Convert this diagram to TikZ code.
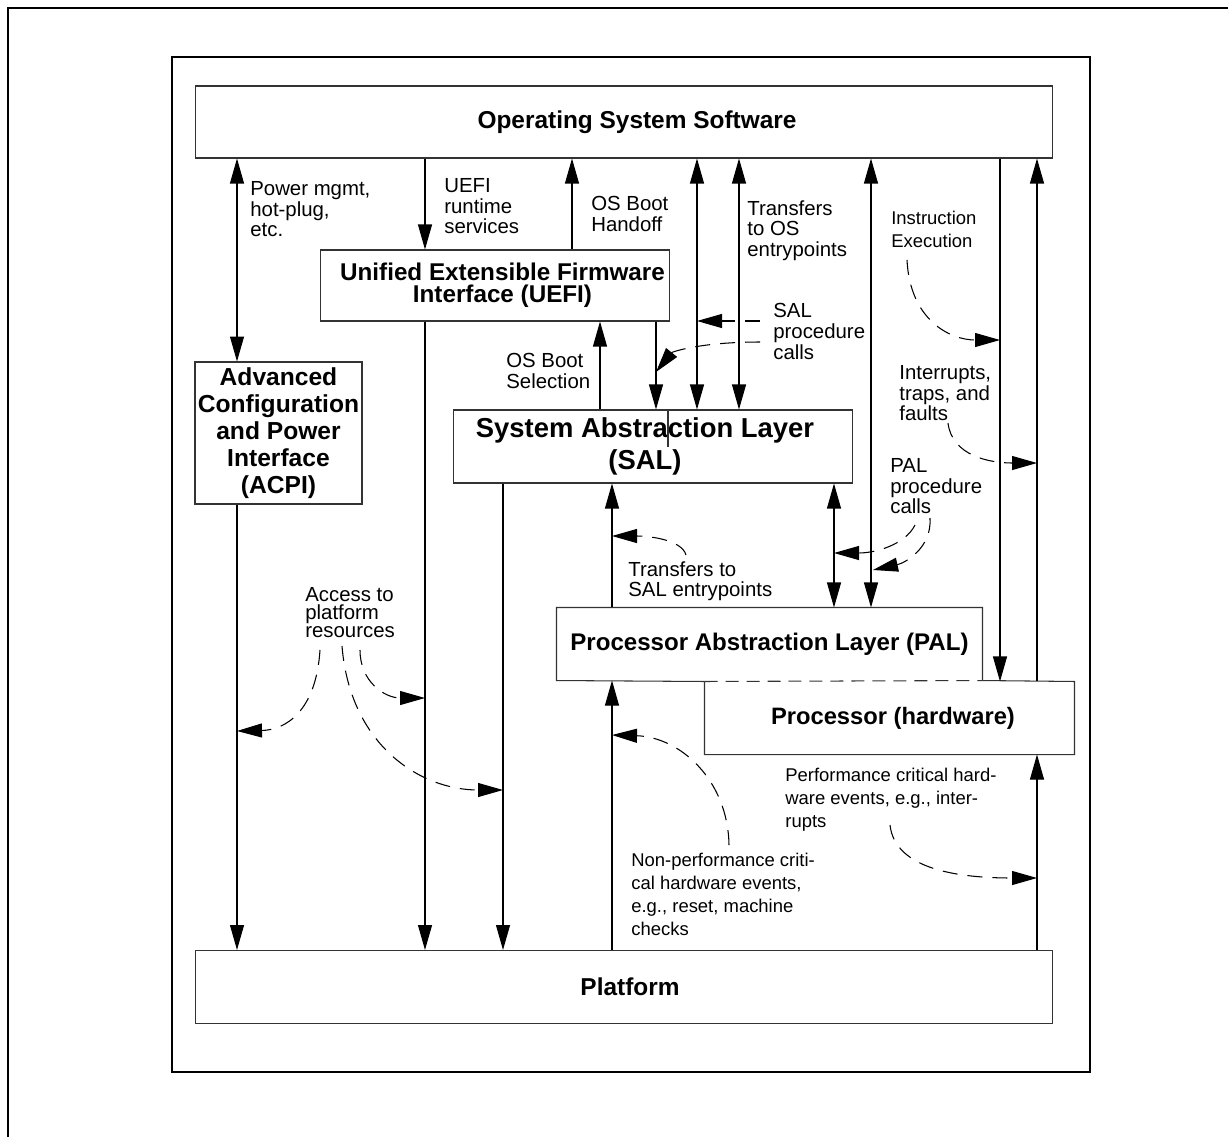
\documentclass[tikz,border=0pt]{standalone}
\usepackage{fontspec}
\setmainfont{Liberation Sans}
\usetikzlibrary{arrows.meta,positioning}
\tikzset{
    %Define standard arrow tip
    >={Triangle[length=5mm,width=2.8mm]},
    %Define style for boxes
    layer/.style={
           rectangle,
           draw=black!80, line width=.6pt,
           inner sep=0pt,
           align=center,
           font=\fontsize{13.9}{15}\selectfont\bfseries},
    bare/.style={
           layer,
           draw=none},
    note/.style={
           inner sep=0pt,
           anchor=north west,
           align=left,
           font=\fontsize{11.6}{11.8}\selectfont},
    smallnote/.style={
           note,
           font=\fontsize{10.5}{13}\selectfont},
    % Define arrow style
    pil/.style={
           line width=.6pt},
    call/.style={
           ->,
           line width=.6pt,
           dash pattern=on 3mm off 2mm}
}
\begin{document}
\begin{tikzpicture}[x=0.02cm,y=-0.02cm]
\useasboundingbox (0,0) rectangle (1228,1137);

 %frames
\draw[line width=1.2pt] (8,1137) -- (8,8) -- (1228,8);
\draw[line width=.8pt] (172,57) rectangle (1090,1072);

 %nodes
\node[layer, minimum width=17.16cm, minimum height=1.44cm] (os) at (624,122) {\hspace*{.52cm}Operating System Software};
\node[layer, minimum width=7cm, minimum height=1.42cm,
  font=\fontsize{13.8}{12.5}\selectfont\bfseries] (uefi) at (495,285.5) {\hspace*{.3cm}Unified Extensible Firmware\\\hspace*{.3cm}Interface (UEFI)};
\node[layer, minimum width=3.34cm, minimum height=2.84cm,
  font=\fontsize{14}{15.4}\selectfont\bfseries] (acpi) at (278.5,433) {Advanced\\Configuration\\and Power\\Interface\\(ACPI)};
\node[layer, minimum width=8cm, minimum height=1.46cm,
  font=\fontsize{15.6}{18.2}\selectfont\bfseries] (sal) at (653,446.5) {System Abstraction Layer\hspace*{.32cm}\\(SAL)\hspace*{.32cm}};
\node[bare, minimum width=8.5cm, minimum height=1.44cm,
  font=\fontsize{13.7}{15}\selectfont\bfseries] (pal) at (769.5,644) {Processor Abstraction Layer (PAL)};
\node[bare, minimum width=7.38cm, minimum height=1.44cm,
  font=\fontsize{13.5}{15}\selectfont\bfseries] (proc) at (889.5,718) {\hspace*{.14cm}Processor (hardware)};
\node[layer, minimum width=17.16cm, minimum height=1.46cm] (plat) at (624,987) {\hspace*{.24cm}Platform};

 %PAL and processor share an edge
\draw[pil, draw=black!80] (proc.north west) -- (pal.south west) -- (pal.north west) -- (pal.north east) -- (pal.south east);
\draw[pil, draw=black!80, dash pattern=on 2.6mm off 1.6mm] (proc.north west) -- (pal.south east);
\draw[pil, draw=black!80] (pal.south east) -- (proc.north east) -- (proc.south east) -- (proc.south west) -- (proc.north west);
\draw[pil, draw=black!80] (sal.north -| 668,0) -- ++(0,38);

 %labels
\node[note] (power) at (250,181) {Power mgmt,\\hot-plug,\\etc.};
\node[note] (rt) at (444,178) {UEFI\\runtime\\services};
\node[note] (handoff) at (591,196) {OS Boot\\Handoff};
\node[note] (toos) at (747,200) {Transfers\\to OS\\entrypoints};
\node[smallnote] (instr) at (891,211) {Instruction\\Execution};
\node[note] (salcalls) at (773,303) {SAL\\procedure\\calls};
\node[note] (select) at (506,353) {OS Boot\\Selection};
\node[note] (intr) at (899,365) {Interrupts,\\traps, and\\faults};
\node[note] (palcalls) at (890,458) {PAL\\procedure\\calls};
\node[note] (tosal) at (628,561) {Transfers to\\SAL entrypoints};
\node[note, font=\fontsize{11.6}{10.2}\selectfont] (access) at (305,587) {Access to\\platform\\resources};
\node[smallnote] (perf) at (785,768) {Performance critical hard-\\ware events, e.g., inter-\\rupts};
\node[smallnote] (nonperf) at (631,853) {Non-performance criti-\\cal hardware events,\\e.g., reset, machine\\checks};

 %lanes
\foreach \n/\x in {acpi/237,rt/425,down/503,handoff/572,select/600,entry/612,
                   call/656,sala/697,salb/739,salpal/834,palos/871,exec/1000,hw/1037}
  \coordinate (lane\n) at (\x,0);

 %connectors
\draw[pil,<->] (os.south -| laneacpi) -- (acpi.north -| laneacpi);
\draw[pil,->] (os.south -| lanert) -- (uefi.north -| lanert);
\draw[pil,->] (uefi.north -| lanehandoff) -- (os.south -| lanehandoff);
\draw[pil,<->] (os.south -| lanesala) -- (sal.north -| lanesala);
\draw[pil,<->] (os.south -| lanesalb) -- (sal.north -| lanesalb);
\draw[pil,<->] (os.south -| lanepalos) -- (pal.north -| lanepalos);
\draw[pil,->] (os.south -| laneexec) -- (proc.north -| laneexec);
\draw[pil,->] (proc.north -| lanehw) -- (os.south -| lanehw);
\draw[pil,->] (sal.north -| laneselect) -- (uefi.south -| laneselect);
\draw[pil,->] (uefi.south -| lanecall) -- (sal.north -| lanecall);
\draw[pil,<->] (sal.south -| lanesalpal) -- (pal.north -| lanesalpal);
\draw[pil,->] (pal.north -| laneentry) -- (sal.south -| laneentry);
\draw[pil,->] (acpi.south -| laneacpi) -- (plat.north -| laneacpi);
\draw[pil,->] (uefi.south -| lanert) -- (plat.north -| lanert);
\draw[pil,->] (sal.south -| lanedown) -- (plat.north -| lanedown);
\draw[pil,->] (plat.north -| laneentry) -- (pal.south -| laneentry);
\draw[pil,->] (plat.north -| lanehw) -- (proc.south -| lanehw);

 %dashed calls
\coordinate (acca) at (320,650);
\coordinate (accb) at (342,646);
\coordinate (accc) at (360,650);
\coordinate (sala) at (760,321);
\coordinate (salb) at (760,342);
\coordinate (exec) at (907,260);
\coordinate (trap) at (948,423);
\coordinate (pala) at (915,525);
\coordinate (palb) at (930,518);
\coordinate (entry) at (686,555);
\coordinate (slow) at (729,845);
\coordinate (fast) at (890,825);
\draw[call] (acca) .. controls (316,712) and (285,730) .. (laneacpi |- 0,731);
\draw[call] (accb) .. controls (350,745) and (420,790) .. (lanedown |- 0,790);
\draw[call] (accc) .. controls (360,682) and (385,698) .. (lanert |- 0,698);
\draw[call] (sala) -- (lanesala |- sala);
\draw[call] (salb) .. controls (700,342) and (672,352) .. (lanecall |- 0,372);
\draw[call] (exec) .. controls (910,320) and (950,340) .. (laneexec |- 0,340);
\draw[call] (trap) .. controls (952,456) and (990,463) .. (lanehw |- 0,463);
\draw[call] (pala) .. controls (905,545) and (875,553) .. (lanesalpal |- 0,553);
\draw[call] (palb) .. controls (932,548) and (905,563) .. (873,570);
\draw[call] (entry) .. controls (682,540) and (650,536) .. (laneentry |- 0,536);
\draw[call] (slow) .. controls (728,780) and (680,737) .. (laneentry |- 0,735);
\draw[call] (fast) .. controls (895,870) and (960,878) .. (lanehw |- 0,878);

\end{tikzpicture}
\end{document}
